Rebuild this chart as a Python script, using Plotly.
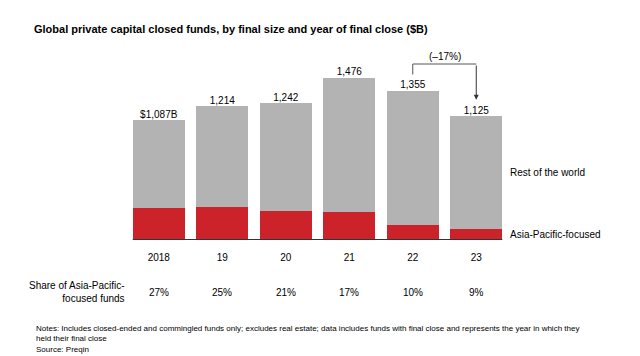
import plotly.graph_objects as go

years = ["2018", "19", "20", "21", "22", "23"]
totals = [1087, 1214, 1242, 1476, 1355, 1125]
total_labels = ["$1,087B", "1,214", "1,242", "1,476", "1,355", "1,125"]
asia = [293, 303, 261, 251, 136, 101]
rest = [794, 911, 981, 1225, 1219, 1024]
shares = ["27%", "25%", "21%", "17%", "10%", "9%"]
change_label = "(\u201317%)"

FONT = "Liberation Sans, Arial, Helvetica, sans-serif"
GREY = "#b3b3b3"
RED = "#cc2229"

# page body has an 8px default margin; figure is sized / placed to compensate
OFF = 8
W, H = 640 - OFF, 356 - OFF

fig = go.Figure()
fig.add_trace(go.Bar(x=years, y=asia, marker=dict(color=RED, line=dict(width=0)),
                     name="Asia-Pacific-focused", hoverinfo="skip"))
fig.add_trace(go.Bar(x=years, y=rest, marker=dict(color=GREY, line=dict(width=0)),
                     name="Rest of the world", hoverinfo="skip"))
fig.add_trace(go.Scatter(x=years, y=totals, mode="text", text=total_labels,
                         textposition="top center",
                         textfont=dict(size=10, color="#000", family=FONT),
                         hoverinfo="skip", cliponaxis=False))

annotations = []
annotations.append(dict(x=1, xref="paper", xanchor="left",
                        y=asia[-1] + rest[-1] / 2, yref="y", yanchor="middle",
                        text="Rest of the world", showarrow=False,
                        font=dict(size=10, color="#000", family=FONT)))
annotations.append(dict(x=1, xref="paper", xanchor="left",
                        y=asia[-1] / 2, yref="y", yanchor="middle",
                        text="Asia-Pacific-focused", showarrow=False,
                        font=dict(size=10, color="#000", family=FONT)))
for i, s in enumerate(shares):
    annotations.append(dict(x=i, xref="x", y=0, yref="y", yshift=-52,
                            yanchor="middle", text=s, showarrow=False,
                            font=dict(size=10, color="#000", family=FONT)))
annotations.append(dict(x=0, xref="paper", xanchor="right",
                        y=0, yref="y", yshift=-52, yanchor="middle", align="right",
                        text="Share of Asia-Pacific-<br>focused funds", showarrow=False,
                        font=dict(size=10, color="#000", family=FONT)))
y_start = totals[4] + 150
y_top = totals[4] + 245
y_end = totals[5] + 150
annotations.append(dict(x=4.5, xref="x", y=y_top, yref="y", yshift=8,
                        yanchor="middle", text=change_label, showarrow=False,
                        font=dict(size=10, color="#000", family=FONT)))
annotations.append(dict(x=5, y=y_end, xref="x", yref="y", ax=5, ay=y_top,
                        axref="x", ayref="y", showarrow=True, arrowhead=2,
                        arrowsize=1, arrowwidth=1, arrowcolor="#333", text=""))
annotations.append(dict(x=(34 - 127.4) / 381, xref="paper", xanchor="left",
                        y=(240 - 322) / 187, yref="paper", yanchor="top", align="left",
                        text="Notes: Includes closed-ended and commingled funds only; excludes real estate; data includes funds with final close and represents the year in which they<br>held their final close<br>Source: Preqin",
                        showarrow=False, font=dict(size=8, color="#000", family=FONT)))

shapes = [
    dict(type="line", xref="x", yref="y", x0=-0.41, x1=5.41, y0=0, y1=0,
         line=dict(color="#333", width=2)),
    dict(type="path", xref="x", yref="y",
         path=f"M 4,{y_start} L 4,{y_top} L 5,{y_top}",
         line=dict(color="#555", width=1)),
]

fig.update_layout(
    barmode="stack", bargap=0.186,
    width=W, height=H,
    margin=dict(l=127 - OFF, r=132, t=53 - OFF, b=116),
    paper_bgcolor="white", plot_bgcolor="white",
    showlegend=False,
    font=dict(family=FONT, color="#000"),
    title=dict(text="<b>Global private capital closed funds, by final size and year of final close ($B)</b>",
               x=(34 - OFF) / W, xref="container", xanchor="left",
               y=1 - (29 - OFF) / H, yanchor="middle",
               font=dict(size=11, color="#000", family=FONT)),
    xaxis=dict(type="category", range=[-0.5, 5.5], showgrid=False, zeroline=False,
               showline=False, ticks="", tickfont=dict(size=10, color="#000", family=FONT),
               ticklabelstandoff=10),
    yaxis=dict(range=[0, 1700], visible=False),
    annotations=annotations,
    shapes=shapes,
)

fig.write_html("out.html")
